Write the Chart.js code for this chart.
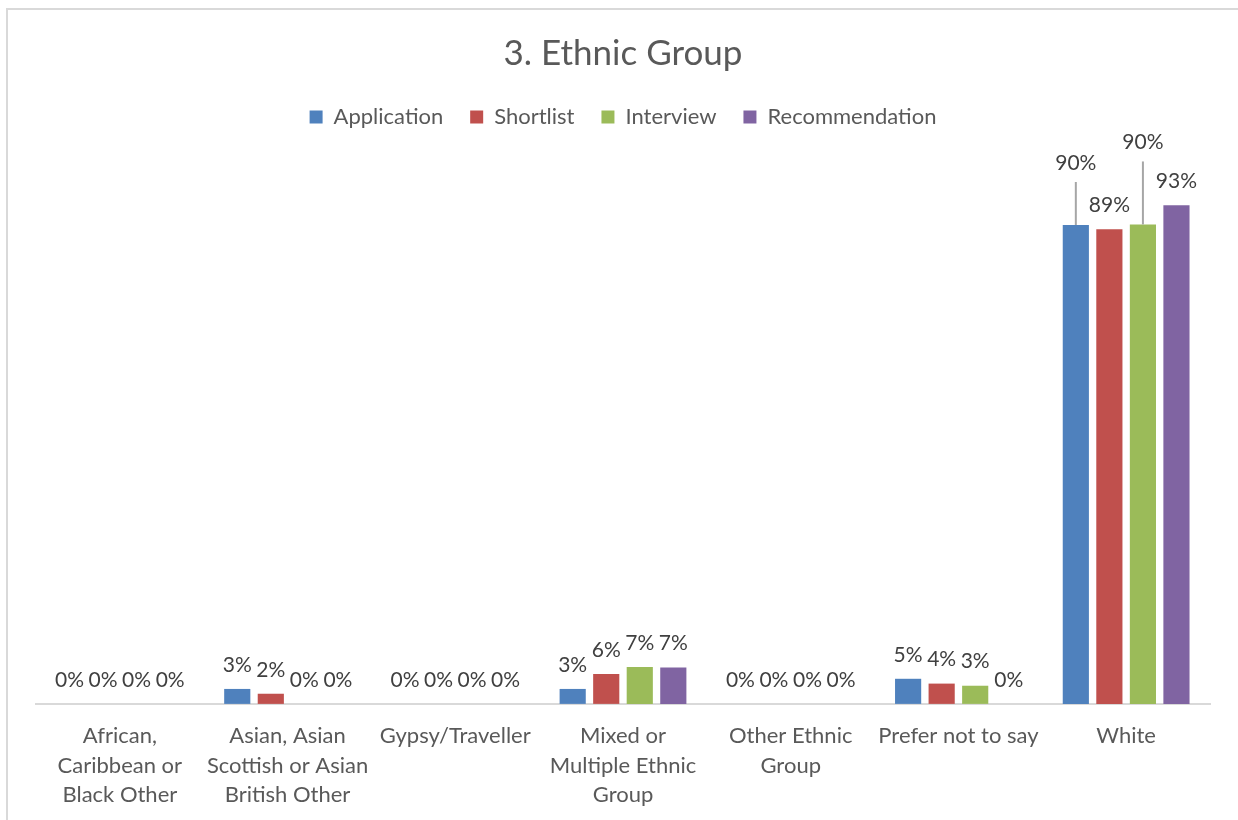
<!DOCTYPE html>
<html>
<head>
<meta charset="utf-8">
<script src="https://cdn.jsdelivr.net/npm/chart.js@4.4.1/dist/chart.umd.min.js"></script>
<style>
  html, body { margin: 0; padding: 0; background: #fff; }
  .frame {
    position: absolute; left: 6px; top: 8px;
    width: 1232px; height: 812px;
    border-left: 2px solid #d9d9d9; border-top: 2px solid #d9d9d9;
    box-sizing: border-box;
  }
  .frame canvas { display: block; }
</style>
</head>
<body>
<div class="frame"><canvas id="ethnic"></canvas></div>
<script>
// categories (multi-line labels) and the four selection stages
const categories = [
  ['African,', 'Caribbean or', 'Black Other'],
  ['Asian, Asian', 'Scottish or Asian', 'British Other'],
  ['Gypsy/Traveller'],
  ['Mixed or', 'Multiple Ethnic', 'Group'],
  ['Other Ethnic', 'Group'],
  ['Prefer not to say'],
  ['White']
];
const application    = [0, 2.8, 0, 2.8, 0, 4.7, 89.7];
const shortlist      = [0, 1.9, 0, 5.6, 0, 3.8, 88.9];
const interview      = [0, 0, 0, 6.9, 0, 3.4, 89.8];
const recommendation = [0, 0, 0, 6.8, 0, 0, 93.4];

const seriesNames  = ['Application', 'Shortlist', 'Interview', 'Recommendation'];
const seriesColors = ['#4f81bd', '#c0504d', '#9bbb59', '#8064a2'];

const FONT = 'Lato, "Open Sans", sans-serif';
const GREY = '#595959';

// labels pulled up with a leader line: [datasetIndex, categoryIndex, extra lift px]
const callouts = [[0, 6, 38], [2, 6, 58]];

// draws value labels above each bar, with leader lines for lifted ones
const valueLabels = {
  id: 'valueLabels',
  afterDatasetsDraw(chart) {
    const ctx = chart.ctx;
    ctx.save();
    ctx.font = '21px ' + FONT;
    ctx.fillStyle = '#404040';
    ctx.textAlign = 'center';
    ctx.textBaseline = 'middle';
    chart.data.datasets.forEach((ds, di) => {
      chart.getDatasetMeta(di).data.forEach((bar, i) => {
        const c = callouts.find(o => o[0] === di && o[1] === i);
        const lift = c ? c[2] : 0;
        const y = bar.y - 24 - lift;
        if (lift) {
          ctx.strokeStyle = '#a6a6a6';
          ctx.lineWidth = 2;
          ctx.beginPath();
          ctx.moveTo(bar.x, bar.y);
          ctx.lineTo(bar.x, y + 19);
          ctx.stroke();
        }
        ctx.fillText(Math.round(ds.data[i]) + '%', bar.x, y);
      });
    });
    ctx.restore();
  }
};

// extra room between the legend and the plot
const legendGap = {
  id: 'legendGap',
  beforeInit(chart) {
    const fit = chart.legend.fit;
    chart.legend.fit = function () {
      fit.bind(chart.legend)();
      this.height += 32;
    };
  }
};

const values = [application, shortlist, interview, recommendation];

new Chart(document.getElementById('ethnic'), {
  type: 'bar',
  data: {
    labels: categories,
    datasets: seriesNames.map((name, k) => ({
      label: name,
      data: values[k],
      backgroundColor: seriesColors[k],
      barPercentage: 0.78,
      categoryPercentage: 0.8
    }))
  },
  options: {
    responsive: true,
    maintainAspectRatio: false,
    animation: false,
    layout: { padding: { left: 28, right: 28, top: 0, bottom: 1 } },
    scales: {
      x: {
        grid: { display: false },
        border: { display: true, color: '#d9d9d9', width: 2 },
        ticks: {
          color: GREY, font: { family: FONT, size: 22, lineHeight: 1.32 },
          maxRotation: 0, autoSkip: false, padding: 10
        }
      },
      y: { display: false, min: 0, max: 100 }
    },
    plugins: {
      title: {
        display: true, text: '3. Ethnic Group', color: GREY,
        font: { family: FONT, size: 35, weight: 'normal' },
        padding: { top: 23, bottom: 4 }
      },
      legend: {
        labels: {
          color: GREY, font: { family: FONT, size: 22 },
          boxWidth: 13, boxHeight: 13, padding: 27
        }
      },
      tooltip: { enabled: false }
    }
  },
  plugins: [valueLabels, legendGap]
});
</script>
</body>
</html>
